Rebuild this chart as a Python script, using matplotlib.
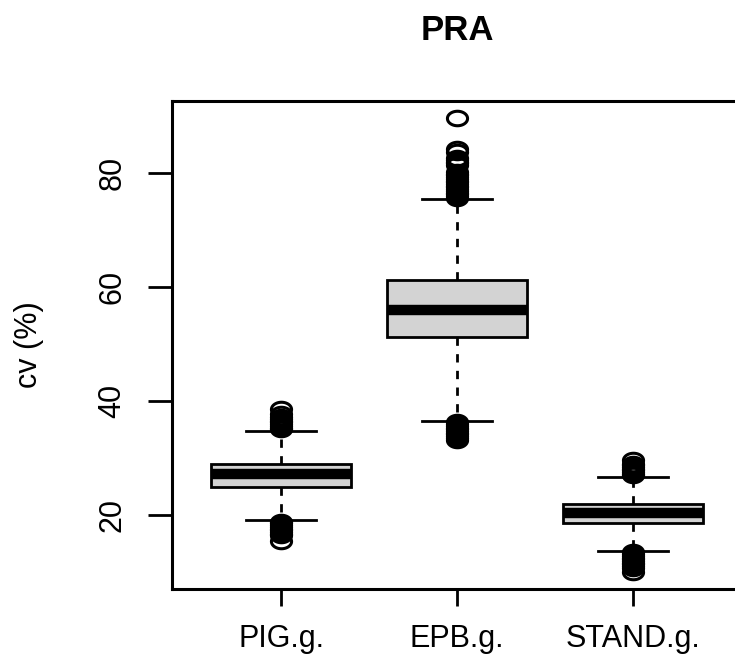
#!/usr/bin/env python
# coding: utf-8

import numpy as np
import matplotlib
matplotlib.use('Agg')
import matplotlib.pyplot as plt
from matplotlib.path import Path

plt.rcParams['font.family'] = ['Liberation Sans', 'DejaVu Sans']

# groups and box statistics (cv, %)
groups = ['PIG.g.', 'EPB.g.', 'STAND.g.']
q1 = [24.8, 51.2, 18.5]
med = [27.2, 55.9, 20.4]
q3 = [28.9, 61.2, 21.9]
whislo = [19.05, 36.5, 13.7]
whishi = [34.7, 75.4, 26.6]

# outliers per group
fliers_pig = [35.0, 35.3, 35.6, 35.9, 36.2, 36.5, 36.8, 37.1, 37.6, 38.6,
              18.8, 18.5, 18.2, 17.9, 17.6, 17.3, 17.0, 16.7, 16.4, 15.4]
fliers_epb = [75.6, 75.9, 76.2, 76.5, 76.8, 77.1, 77.4, 77.7, 78.0, 78.3,
              78.6, 78.9, 79.2, 79.5, 79.8, 80.1, 81.3, 81.6, 81.9, 82.2,
              82.5, 83.6, 84.1, 89.6,
              36.2, 35.9, 35.6, 35.3, 35.0, 34.7, 34.4, 34.1, 33.8, 33.5, 33.2]
fliers_stand = [26.9, 27.2, 27.5, 27.8, 28.1, 28.4, 28.7, 29.0, 29.6,
                13.4, 13.1, 12.8, 12.5, 12.2, 11.9, 11.6, 11.3, 11.0, 10.7, 10.0]
fliers = [fliers_pig, fliers_epb, fliers_stand]

stats = []
for i, name in enumerate(groups):
    stats.append({'label': name, 'q1': q1[i], 'med': med[i], 'q3': q3[i],
                  'whislo': whislo[i], 'whishi': whishi[i],
                  'fliers': np.array(fliers[i])})

# slightly flattened open circle, the picture is stretched sideways
t = np.linspace(0, 2 * np.pi, 60)
ellipse = Path(np.column_stack([np.cos(t), 0.72 * np.sin(t)]), closed=True)

fig = plt.figure(figsize=(7.35, 6.64), dpi=100)
ax = fig.add_axes([172 / 735, 75 / 664, 570 / 735, 488 / 664])

lw = 2.0
ax.bxp(stats, positions=[1, 2, 3], widths=0.8, patch_artist=True,
       boxprops=dict(facecolor='#d3d3d3', edgecolor='black', linewidth=lw),
       medianprops=dict(color='black', linewidth=7.5, solid_capstyle='butt'),
       whiskerprops=dict(color='black', linewidth=lw, linestyle=(0, (3, 3))),
       capprops=dict(color='black', linewidth=lw),
       flierprops=dict(marker=ellipse, markersize=14.5, markerfacecolor='none',
                       markeredgecolor='black', markeredgewidth=2.2,
                       linestyle='none'))

ax.set_xlim(0.38, 3.62)
ax.set_ylim(7.0, 92.55)
ax.set_yticks([20, 40, 60, 80])
ax.set_xticks([1, 2, 3])
ax.set_xticklabels(groups)
for lab in ax.get_yticklabels():
    lab.set_rotation(90)
    lab.set_va('center')

for sp in ax.spines.values():
    sp.set_linewidth(2.2)
ax.tick_params(axis='y', length=17, width=lw, labelsize=22, pad=15)
ax.tick_params(axis='x', length=12, width=lw, labelsize=22, pad=13)

ax.set_ylabel('cv (%)', fontsize=22)
ax.yaxis.set_label_coords(-0.225, 0.5)
ax.set_title('PRA', fontsize=25, fontweight='bold', pad=44)

fig.savefig('out.png', dpi=100)
